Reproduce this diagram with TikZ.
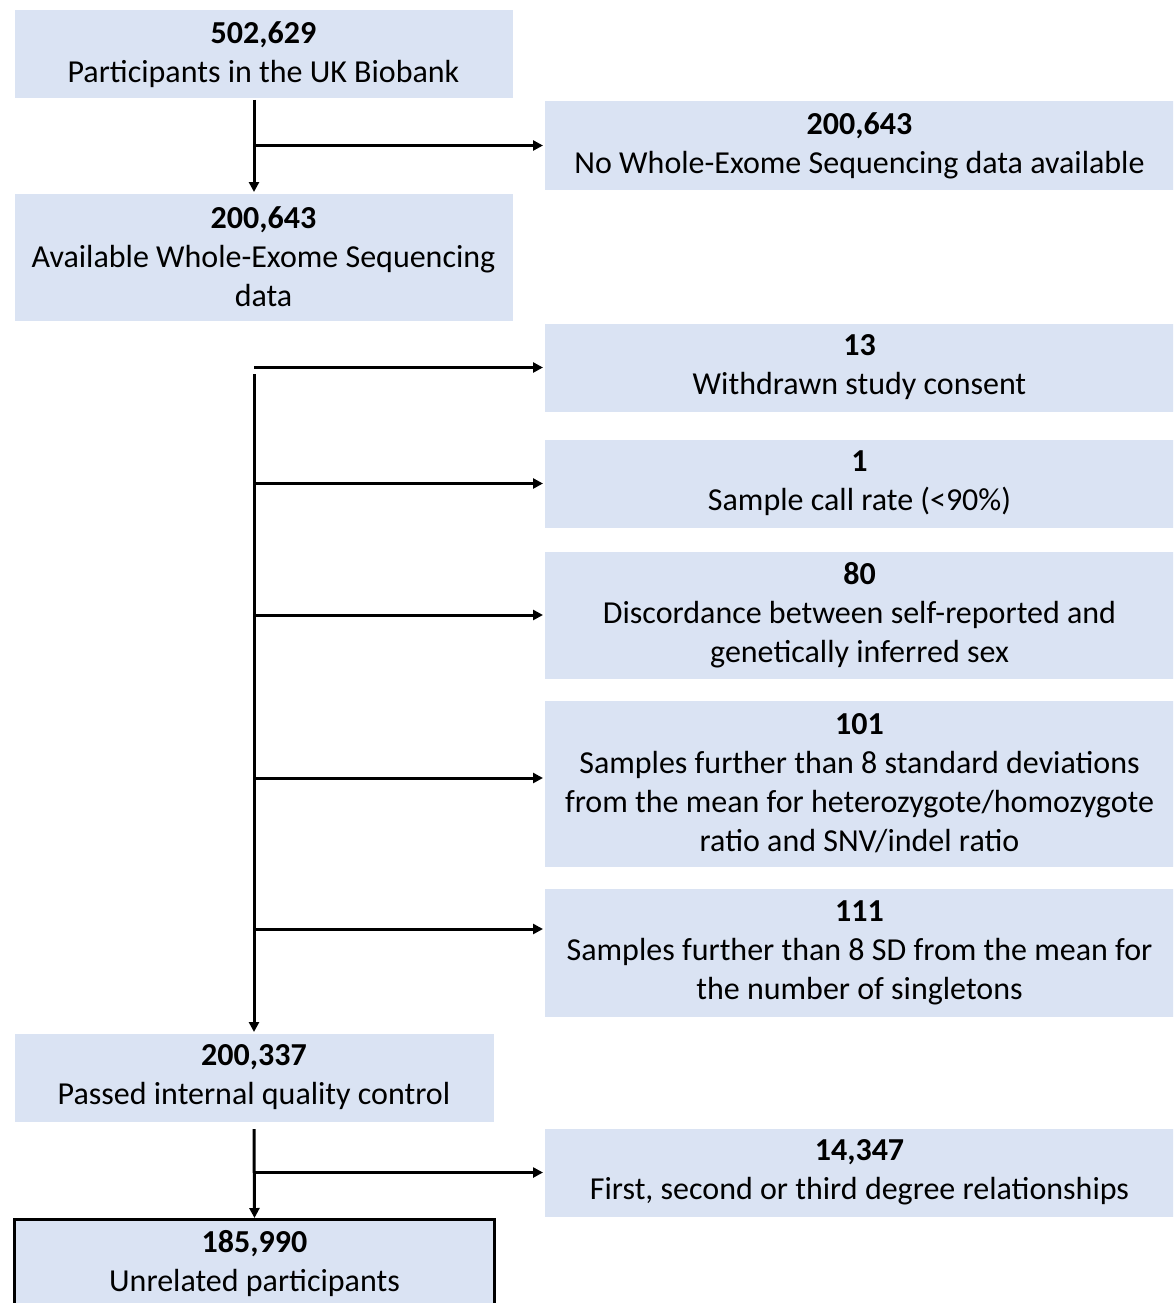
\documentclass[tikz,border=0pt]{standalone}
\usepackage{fontspec}
\setmainfont{Carlito}
\usetikzlibrary{positioning,arrows.meta}
\definecolor{boxblue}{HTML}{DAE3F3}

\begin{document}
\begin{tikzpicture}[x=1pt,y=-1pt,->,>={Triangle[length=10pt,width=10pt]},line width=3pt,
   every node/.style={font=\fontsize{32}{39}\selectfont},
   box/.style={rectangle,fill=boxblue,align=center,inner sep=0pt,anchor=north west},
   left box/.style={box,minimum width=498pt},
   right box/.style={box,minimum width=630pt}]
  \useasboundingbox (0,0) rectangle (1173,1303);
  \clip (0,0) rectangle (1173,1303);

  \node[left box,minimum height=88pt] (ukb) at (13,9) {\textbf{502,629}\\Participants in the UK Biobank};
  \node[right box,minimum height=88pt] (nowes) at (543,100) {\textbf{200,643}\\No Whole-Exome Sequencing data available};
  \node[left box,minimum height=127pt] (wes) at (13,192) {\textbf{200,643}\\Available Whole-Exome Sequencing\\data};
  \node[right box,minimum height=88pt] (consent) at (543,322) {\textbf{13}\\Withdrawn study consent};
  \node[right box,minimum height=88pt] (callrate) at (543,438) {\textbf{1}\\Sample call rate (<90\%)};
  \node[right box,minimum height=127pt] (sex) at (543,550) {\textbf{80}\\Discordance between self-reported and\\genetically inferred sex};
  \node[right box,minimum height=166pt] (ratio) at (543,699) {\textbf{101}\\Samples further than 8 standard deviations\\from the mean for heterozygote/homozygote\\ratio and SNV/indel ratio};
  \node[right box,minimum height=128pt] (single) at (543,887) {\textbf{111}\\Samples further than 8 SD from the mean for\\the number of singletons};
  \node[box,minimum width=479pt,minimum height=88pt] (qc) at (13,1032) {\textbf{200,337}\\Passed internal quality control};
  \node[right box,minimum height=88pt] (related) at (543,1127) {\textbf{14,347}\\First, second or third degree relationships};
  \node[box,draw,minimum width=480pt,minimum height=88pt] (final) at (13,1218) {\textbf{185,990}\\Unrelated participants};

  % first split
  \coordinate (j1) at (qc.north |- ukb.south);
  \draw (j1) -- (wes.north -| j1);
  \draw (j1 |- nowes.west) -- (nowes.west);

  % exclusions before QC
  \coordinate (j2) at (qc.north |- 0,374);
  \draw (j2) -- (qc.north);
  \draw (j2 |- consent.west) -- (consent.west);
  \draw (j2 |- callrate.west) -- (callrate.west);
  \draw (j2 |- sex.west) -- (sex.west);
  \draw (j2 |- 0,778) -- (ratio.west |- 0,778);
  \draw (j2 |- 0,929) -- (single.west |- 0,929);

  % relatedness
  \coordinate (j3) at ([yshift=-6pt]qc.south);
  \draw (j3) -- (final.north);
  \draw (j3 |- related.west) -- (related.west);
\end{tikzpicture}
\end{document}
